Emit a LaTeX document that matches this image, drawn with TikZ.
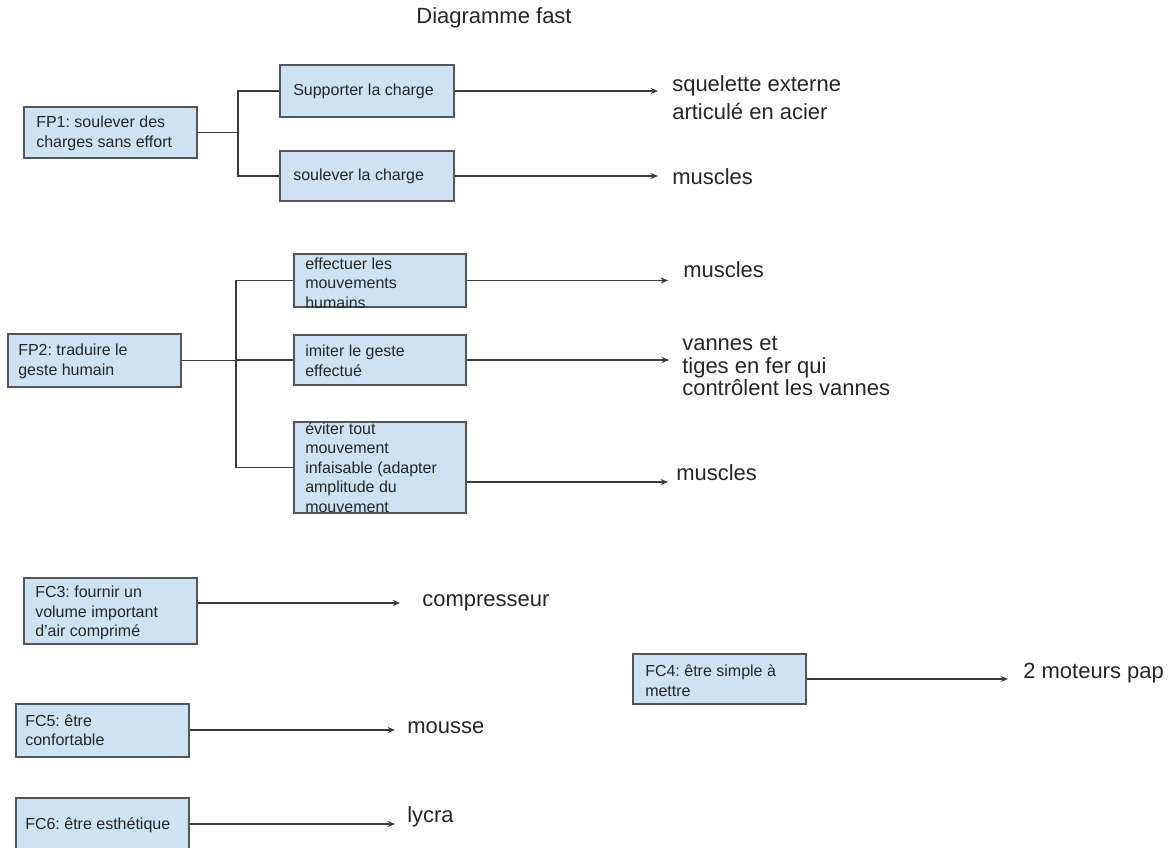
\documentclass[tikz,border=0pt]{standalone}
\usepackage{fontspec}
\setmainfont{Liberation Sans}
\usetikzlibrary{arrows.meta,fit}
\frenchspacing
\definecolor{boxfill}{HTML}{CFE2F3}
\definecolor{boxline}{HTML}{555555}
\definecolor{connc}{HTML}{3A3A3A}
\definecolor{txtc}{HTML}{262626}
\tikzset{
  fbox/.style={draw=boxline, fill=boxfill, line width=1.5pt, inner sep=0pt, fit={#1}},
  btxt/.style={anchor=west, align=left, inner sep=0pt, text=txtc, font=\fontsize{12}{14.6}\selectfont},
  lab/.style={anchor=west, align=left, inner sep=0pt, text=txtc, font=\fontsize{16.5}{17}\selectfont},
  conn/.style={draw=connc, line width=1.3pt},
  arr/.style={conn, -{Stealth[length=5.5pt,width=4.5pt]}},
}
\begin{document}
\begin{tikzpicture}[x=0.75pt,y=-0.75pt]
\path[use as bounding box] (0,0) rectangle (1174,847);
\clip (0,0) rectangle (1174,847);

% title
\node[text=txtc, font=\fontsize{16.5}{20}\selectfont, inner sep=0pt] (title) at (494,18) {Diagramme fast};

% FP1
\node[fbox={(24,107) (197,158)}] (fp1) {};
\node[btxt] (fp1t) at (36,133.5) {FP1: soulever des\\charges sans effort};
\node[fbox={(280,65) (454,117)}] (s1) {};
\node[btxt] (s1t) at (293,91) {Supporter la charge};
\node[fbox={(280,151) (454,201)}] (s2) {};
\node[btxt] (s2t) at (293,176.5) {soulever la charge};
\coordinate (t1) at (238,0);
\draw[conn] (fp1.east) -- (fp1.east -| t1) |- (s1.west);
\draw[conn] (fp1.east -| t1) |- (s2.west);

% FP2
\node[fbox={(8,334) (181,387)}] (fp2) {};
\node[btxt] (fp2t) at (18,361.5) {FP2: traduire le\\geste humain};
\node[fbox={(294,254) (466,307)}] (e1) {};
\node[btxt] (e1t) at (305,283) {effectuer les\\mouvements\\humains};
\node[fbox={(294,335) (466,385)}] (e2) {};
\node[btxt] (e2t) at (305,361) {imiter le geste\\effectué};
\node[fbox={(294,422) (466,513)}] (e3) {};
\node[btxt] (e3t) at (305,467.5) {éviter tout\\mouvement\\infaisable (adapter\\amplitude du\\mouvement};
\coordinate (t2) at (236,0);
\draw[conn] (fp2.east) -- (fp2.east -| t2) |- (e1.west);
\draw[conn] (fp2.east -| t2) |- (e3.west);
\draw[conn] (fp2.east -| t2) -- (e2.west -| t2) -- (e2.west);

% FC boxes
\node[fbox={(24,578) (197,644)}] (fc3) {};
\node[btxt] (fc3t) at (35,613) {FC3: fournir un\\volume important\\d'air comprimé};
\node[fbox={(16,704) (189,757)}] (fc5) {};
\node[btxt] (fc5t) at (25,730.5) {FC5: être\\confortable};
\node[fbox={(16,798) (189,852)}] (fc6) {};
\node[btxt] (fc6t) at (25,825) {FC6: être esthétique};
\node[fbox={(633,654) (806,704)}] (fc4) {};
\node[btxt] (fc4t) at (645,680.5) {FC4: être simple à\\mettre};

% arrow ends
\coordinate (a1) at (658,91);
\coordinate (a2) at (658,176);
\coordinate (a3) at (668,280.5);
\coordinate (a4) at (669,360);
\coordinate (a5) at (668,482);
\coordinate (a6) at (400,603);
\coordinate (a7) at (395,730);
\coordinate (a8) at (395,824);
\coordinate (a9) at (1008,679);

\draw[arr] (s1.east) -- (a1);
\draw[arr] (s2.east) -- (a2);
\draw[arr] (e1.east) -- (a3);
\draw[arr] (e2.east) -- (a4);
\draw[arr] (e3.east |- a5) -- (a5);
\draw[arr] (fc3.east |- a6) -- (a6);
\draw[arr] (fc5.east |- a7) -- (a7);
\draw[arr] (fc6.east |- a8) -- (a8);
\draw[arr] (fc4.east) -- (a9);

% labels
\node[lab, font=\fontsize{16.5}{21}\selectfont] (l1) at (672,97.5) {squelette externe\\articulé en acier};
\node[lab] (l2) at (672,177) {muscles};
\node[lab] (l3) at (683,270) {muscles};
\node[lab] (l4) at (682,366) {vannes et\\tiges en fer qui\\contrôlent les vannes};
\node[lab] (l5) at (676,473) {muscles};
\node[lab] (l6) at (422,603) {compresseur};
\node[lab] (l7) at (407,728) {mousse};
\node[lab] (l8) at (407,817) {lycra};
\node[lab] (l9) at (1023,673) {2 moteurs pap};
\end{tikzpicture}
\end{document}
